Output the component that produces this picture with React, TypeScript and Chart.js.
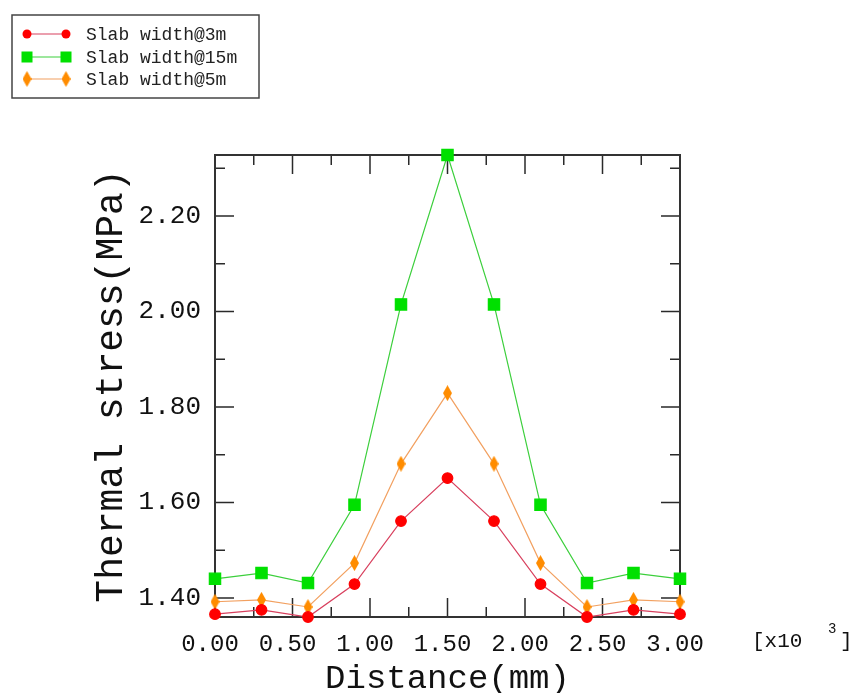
import React, { useEffect, useRef } from "react";
import { Chart, registerables } from "chart.js";

Chart.register(...registerables);

// ---- data ----
const distance = [0, 0.3, 0.6, 0.9, 1.2, 1.5, 1.8, 2.1, 2.4, 2.7, 3.0];
const stress3m = [1.366, 1.375, 1.36, 1.429, 1.561, 1.651, 1.561, 1.429, 1.36, 1.375, 1.366];
const stress15m = [1.44, 1.452, 1.431, 1.595, 2.015, 2.328, 2.015, 1.595, 1.431, 1.452, 1.44];
const stress5m = [1.392, 1.396, 1.381, 1.473, 1.681, 1.829, 1.681, 1.473, 1.381, 1.396, 1.392];
const seriesLabels = ["Slab width@3m", "Slab width@15m", "Slab width@5m"];
const xMajorTicks = [0, 0.5, 1.0, 1.5, 2.0, 2.5, 3.0];
const xMinorTicks = [0.25, 0.75, 1.25, 1.75, 2.25, 2.75];
const yMajorTicks = [1.4, 1.6, 1.8, 2.0, 2.2];
const yMinorTicks = [1.5, 1.7, 1.9, 2.1, 2.3];
const xTitle = "Distance(mm)";
const yTitle = "Thermal stress(MPa)";

const MONO = "'Liberation Mono', 'DejaVu Sans Mono', monospace";

function makeDiamond(color: string, w: number, h: number) {
  const c = document.createElement("canvas");
  c.width = w;
  c.height = h;
  const g = c.getContext("2d")!;
  g.fillStyle = color;
  g.beginPath();
  g.moveTo(w / 2, 0);
  g.lineTo(w, h / 2);
  g.lineTo(w / 2, h);
  g.lineTo(0, h / 2);
  g.closePath();
  g.fill();
  return c;
}

const framePlugin = {
  id: "frameTicks",
  beforeDatasetsDraw(chart: any) {
    const { ctx, chartArea: a, scales } = chart;
    const xs = scales.x;
    const ys = scales.y;
    ctx.save();
    ctx.strokeStyle = "#2a2a2a";
    ctx.lineWidth = 1.5;
    ctx.beginPath();
    const tick = (v: number, len: number, axis: "x" | "y") => {
      if (axis === "x") {
        const px = xs.getPixelForValue(v);
        ctx.moveTo(px, a.bottom);
        ctx.lineTo(px, a.bottom - len);
        ctx.moveTo(px, a.top);
        ctx.lineTo(px, a.top + len);
      } else {
        const py = ys.getPixelForValue(v);
        ctx.moveTo(a.left, py);
        ctx.lineTo(a.left + len, py);
        ctx.moveTo(a.right, py);
        ctx.lineTo(a.right - len, py);
      }
    };
    xMajorTicks.forEach((v) => tick(v, 19, "x"));
    xMinorTicks.forEach((v) => tick(v, 10, "x"));
    yMajorTicks.forEach((v) => tick(v, 19, "y"));
    yMinorTicks.forEach((v) => tick(v, 10, "y"));
    ctx.stroke();
    ctx.lineWidth = 2;
    ctx.strokeStyle = "#333";
    ctx.strokeRect(a.left, a.top, a.right - a.left, a.bottom - a.top);
    ctx.restore();
  },
  afterDraw(chart: any) {
    const { ctx } = chart;
    ctx.save();
    // exponent note
    ctx.fillStyle = "#111";
    ctx.textBaseline = "middle";
    ctx.textAlign = "left";
    ctx.font = `21px ${MONO}`;
    ctx.fillText("[x10", 752, 641);
    ctx.fillText("]", 840, 641);
    ctx.font = `14px ${MONO}`;
    ctx.fillText("3", 828, 629);

    // legend
    const bx = 12, by = 15, bw = 247, bh = 83;
    ctx.fillStyle = "#fff";
    ctx.fillRect(bx, by, bw, bh);
    ctx.strokeStyle = "#444";
    ctx.lineWidth = 1.5;
    ctx.strokeRect(bx, by, bw, bh);
    const rows = [34, 57, 79];
    chart.data.datasets.forEach((ds: any, i: number) => {
      const y = rows[i];
      const x1 = 27, x2 = 66;
      ctx.strokeStyle = ds.borderColor;
      ctx.lineWidth = 1.2;
      ctx.beginPath();
      ctx.moveTo(x1, y);
      ctx.lineTo(x2, y);
      ctx.stroke();
      [x1, x2].forEach((x) => {
        ctx.fillStyle = ds.pointBackgroundColor;
        if (ds.pointStyle === "circle") {
          ctx.beginPath();
          ctx.arc(x, y, 4.5, 0, Math.PI * 2);
          ctx.fill();
        } else if (ds.pointStyle === "rect") {
          ctx.fillRect(x - 5.5, y - 5.5, 11, 11);
        } else if (ds.pointStyle instanceof HTMLCanvasElement) {
          const c = ds.pointStyle as HTMLCanvasElement;
          ctx.drawImage(c, x - c.width / 2, y - c.height / 2);
        }
      });
      ctx.fillStyle = "#222";
      ctx.font = `18px ${MONO}`;
      ctx.textAlign = "left";
      ctx.textBaseline = "middle";
      ctx.fillText(ds.label, 86, y + 1);
    });
    ctx.restore();
  },
};

export default function App() {
  const ref = useRef<HTMLCanvasElement | null>(null);

  useEffect(() => {
    document.body.style.margin = "0";
    const canvas = ref.current!;
    const diamond = makeDiamond("#ff8c00", 9, 16);
    const toPts = (ys: number[]) => distance.map((x, i) => ({ x, y: ys[i] }));
    const chart = new Chart(canvas, {
      type: "line",
      data: {
        datasets: [
          {
            label: seriesLabels[0],
            data: toPts(stress3m),
            borderColor: "#d8405e",
            backgroundColor: "#ff0000",
            pointBackgroundColor: "#ff0000",
            pointBorderColor: "#ff0000",
            pointStyle: "circle",
            pointRadius: 5.3,
            borderWidth: 1.2,
            clip: false,
          } as any,
          {
            label: seriesLabels[1],
            data: toPts(stress15m),
            borderColor: "#3ccf3c",
            backgroundColor: "#00e000",
            pointBackgroundColor: "#00e000",
            pointBorderColor: "#00e000",
            pointStyle: "rect",
            pointRadius: 8,
            borderWidth: 1.2,
            clip: false,
          } as any,
          {
            label: seriesLabels[2],
            data: toPts(stress5m),
            borderColor: "#f2a060",
            backgroundColor: "#ff8c00",
            pointBackgroundColor: "#ff8c00",
            pointBorderColor: "#ff8c00",
            pointStyle: diamond,
            pointRadius: 8,
            borderWidth: 1.2,
            clip: false,
          } as any,
        ],
      },
      options: {
        responsive: false,
        devicePixelRatio: 1,
        animation: false,
        layout: { padding: { left: 0, top: 155, right: 171, bottom: 0 } },
        plugins: { legend: { display: false }, tooltip: { enabled: false } },
        scales: {
          x: {
            type: "linear",
            min: 0,
            max: 3,
            grid: { display: false, drawTicks: false },
            border: { display: false },
            afterBuildTicks: (s: any) => {
              s.ticks = xMajorTicks.map((v) => ({ value: v }));
            },
            afterFit: (s: any) => {
              s.height = 76;
            },
            ticks: {
              callback: (v: any) => Number(v).toFixed(2),
              font: { family: MONO, size: 24, lineHeight: 1 },
              color: "#111",
              padding: 16,
              labelOffset: -5,
              maxRotation: 0,
              autoSkip: false,
            },
            title: {
              display: true,
              text: xTitle,
              font: { family: MONO, size: 34, lineHeight: 1 },
              color: "#111",
              padding: { top: 0, bottom: -3 },
            },
          },
          y: {
            type: "linear",
            min: 1.36,
            max: 2.328,
            grid: { display: false, drawTicks: false },
            border: { display: false },
            afterBuildTicks: (s: any) => {
              s.ticks = yMajorTicks.map((v) => ({ value: v }));
            },
            afterFit: (s: any) => {
              s.width = 215;
            },
            ticks: {
              callback: (v: any) => Number(v).toFixed(2),
              font: { family: MONO, size: 26, lineHeight: 1 },
              color: "#111",
              padding: 14,
              autoSkip: false,
            },
            title: {
              display: true,
              text: yTitle,
              font: { family: MONO, size: 38, lineHeight: 1 },
              color: "#111",
              padding: { top: 93, bottom: 0 },
            },
          },
        },
      },
      plugins: [framePlugin],
    });
    return () => chart.destroy();
  }, []);

  return (
    <div style={{ position: "absolute", left: 0, top: 0, width: 851, height: 693, background: "#fff" }}>
      <canvas ref={ref} width={851} height={693} />
    </div>
  );
}
